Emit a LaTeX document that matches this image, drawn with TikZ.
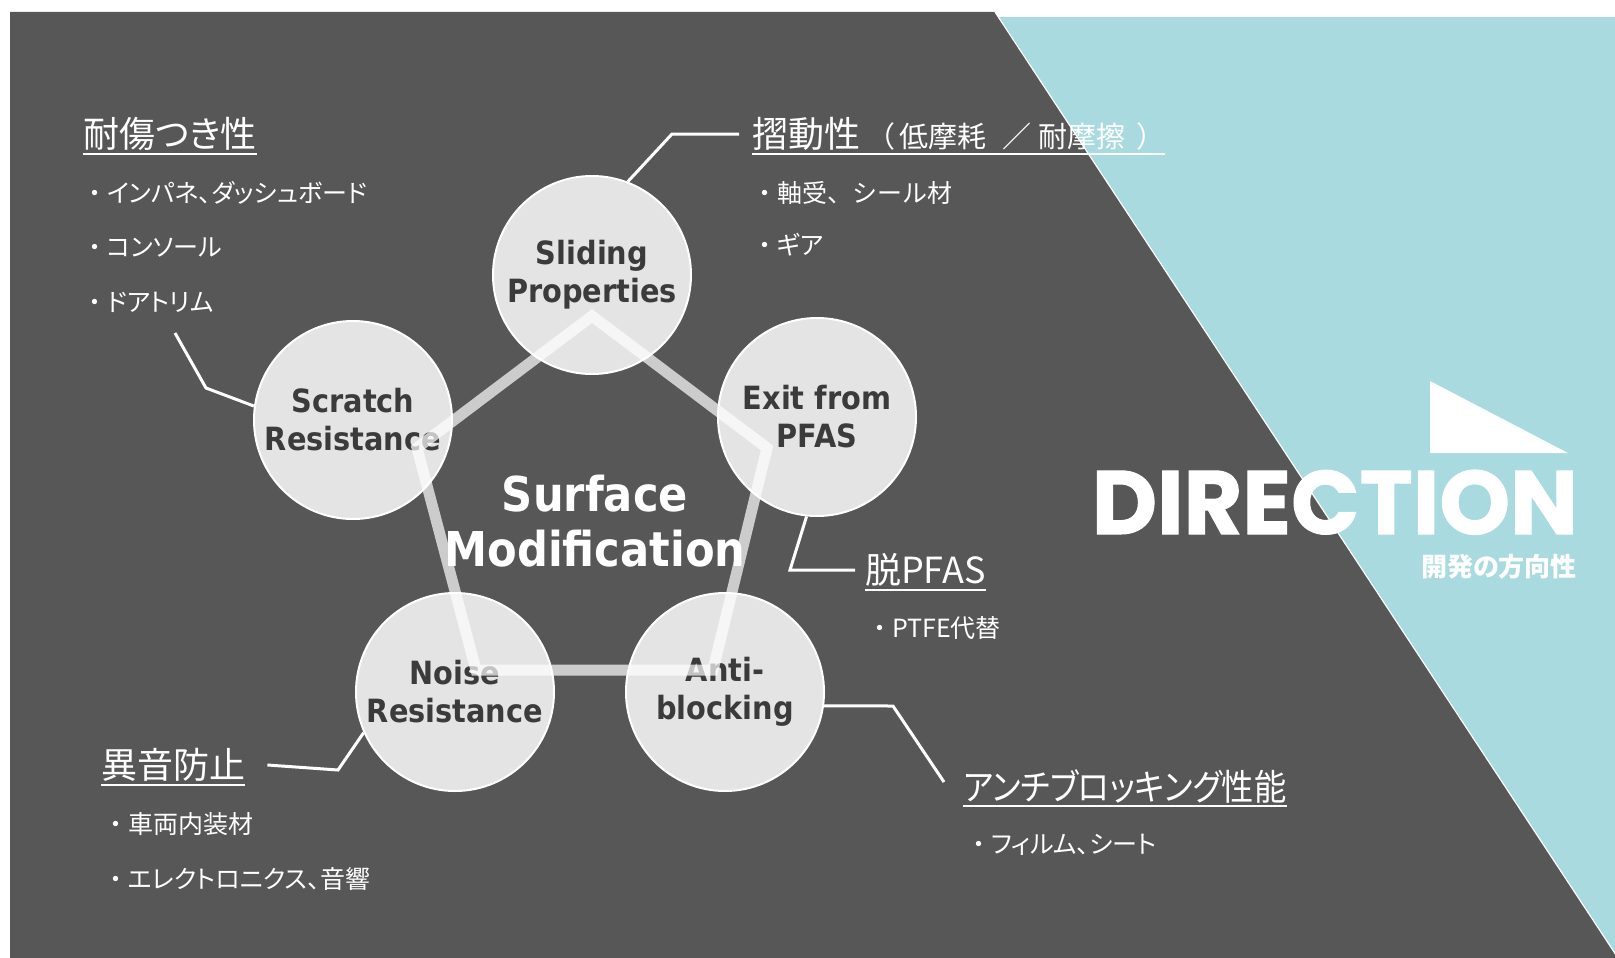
\documentclass[tikz,border=0pt]{standalone}
\usepackage{fontspec}
\usepackage{graphicx}
\usetikzlibrary{positioning}
\setmainfont{DejaVu Sans}
\newfontfamily\jpfont{Noto Sans CJK JP}[RawFeature={+palt}]
\newfontfamily\jpfull{Noto Sans CJK JP}
\newfontfamily\circfont{DejaVu Sans}[FakeStretch=0.9]
\newfontfamily\dirfont{Poppins}[BoldFeatures={FakeBold=1.2}]
\definecolor{slate}{HTML}{575757}
\definecolor{aqua}{HTML}{A8DADF}
\definecolor{disc}{HTML}{E4E4E4}
\definecolor{inktext}{HTML}{3B3B3B}
\newcommand\bul{\makebox[1em][c]{・}}
\tikzset
{
    feature/.style   = {circle, draw=white, line width=2pt, fill=disc, minimum size=198pt, inner sep=0pt, align=center, text=inktext, font=\circfont\bfseries\fontsize{32}{38}\selectfont},
    ring/.style      = {white, opacity=0.7, line width=11pt},
    connector/.style = {white, line width=3pt},
    heading/.style   = {anchor=west, inner sep=0pt, text=white, font=\jpfont\fontsize{36}{40}\selectfont},
    uline/.style     = {white, line width=2pt},
    item/.style      = {anchor=west, inner sep=0pt, text=white, font=\jpfont\fontsize{25}{29}\selectfont}
}

\begin{document}
\begin{tikzpicture}[x=1pt, y=-1pt]
   \useasboundingbox (0,0) rectangle (1615,958);

   % background
   \fill[aqua]  (980,17) rectangle (1615,958);
   \fill[slate] (10,12) -- (995,12) -- (1618,958) -- (10,958) -- cycle;
   \draw[white, line width=1.2pt] (995,12) -- (1618,958);
   \fill[white] (1430,381) -- (1430,453) -- (1568,453) -- cycle;

   \node (dir)    [anchor=base east, inner sep=0pt, text=white, font=\dirfont\bfseries\fontsize{90}{90}\selectfont] at (1578,534) {DIRECTION};
   \node (dirsub) [anchor=east, inner sep=0pt, text=white, font=\jpfont\bfseries\fontsize{26}{26}\selectfont] at (1577,567) {開発の方向性};

   % the five properties
   \node (slide)   [feature] at (592,275) {Sliding\\Properties};
   \node (exit)    [feature] at (817,417) {Exit from\\PFAS};
   \node (scratch) [feature] at (353,420) {Scratch\\Resistance};
   \node (noise)   [feature] at (455,692) {Noise\\Resistance};
   \node (anti)    [feature] at (725,692) {Anti-\\blocking};

   \draw[ring] (592,316) -- (767,448) -- (713,670) -- (476,670) -- (417,448) -- cycle;

   \node (core) [align=center, text=white, font=\circfont\bfseries\fontsize{48}{55}\selectfont] at (595,521) {Surface\\Modification};

   % headings and items
   \node (scratchhead) [heading] at (83,134)  {耐傷つき性};
   \node (scratch1)    [item]    at (82,193)  {\bul インパネ、ダッシュボード};
   \node (scratch2)    [item]    at (82,247)  {\bul コンソール};
   \node (scratch3)    [item]    at (82,302)  {\bul ドアトリム};

   \node (slidehead) [heading] at (752,134) {摺動性{\jpfull\fontsize{29}{30}\selectfont \hspace{6pt}（\hspace{4pt}低摩耗\hspace{16pt}／\hspace{7pt}耐摩擦\hspace{11pt}）\hspace{17pt}}};
   \node (slide1)    [item]    at (752,193) {\bul {\jpfull 軸受、シール材}};
   \node (slide2)    [item]    at (752,245) {\bul ギア};

   \node (exithead) [heading] at (865,570) {脱PFAS};
   \node (exit1)    [item]    at (867,628) {\bul PTFE代替};

   \node (antihead) [heading] at (963,786) {\scalebox{0.895}[1]{アンチブロッキング性能}};
   \node (anti1)    [item]    at (966,845) {\bul フィルム、シート};

   \node (noisehead) [heading] at (101,765) {異音防止};
   \node (noise1)    [item]    at (103,824) {\bul 車両内装材};
   \node (noise2)    [item]    at (103,879) {\bul エレクトロニクス、音響};

   \foreach \h in {scratchhead, slidehead, exithead, antihead, noisehead}
      \draw[uline] ([yshift=-3pt]\h.south west) -- ([yshift=-3pt]\h.south east);

   % connectors
   \coordinate (scratchend)  at (175,333);
   \coordinate (scratchbend) at (206,388);
   \coordinate (slidebend)   at (672,134);
   \coordinate (exitbend)    at (790,570);
   \coordinate (antibend)    at (893,706);
   \coordinate (noisebend)   at (338,770);

   \draw[connector] (scratchend) -- (scratchbend) -- (scratch.172);
   \draw[connector] (slide.69) -- (slidebend) -- ([xshift=-13pt]slidehead.west);
   \draw[connector] (exit.264) -- (exitbend) -- ([xshift=-10pt]exithead.west);
   \draw[connector] (anti.-8) -- (antibend) -- ([xshift=-19pt, yshift=4pt]antihead.west);
   \draw[connector] (noise.204) -- (noisebend) -- ([xshift=22pt]noisehead.east);
\end{tikzpicture}
\end{document}
